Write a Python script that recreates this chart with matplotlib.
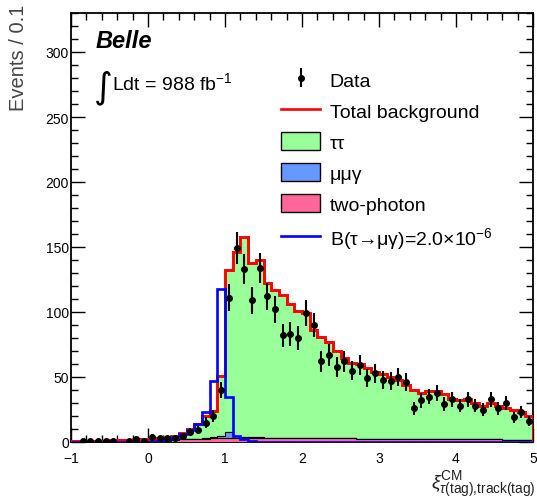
import matplotlib
matplotlib.use('Agg')
import numpy as np
import matplotlib.pyplot as plt
from matplotlib.patches import Patch
from matplotlib.lines import Line2D
from matplotlib.ticker import MultipleLocator

plt.rcParams['font.family'] = ['Liberation Sans', 'DejaVu Sans']
plt.rcParams['mathtext.fontset'] = 'custom'
plt.rcParams['mathtext.rm'] = 'Liberation Sans'
plt.rcParams['mathtext.it'] = 'Liberation Sans:italic'
plt.rcParams['mathtext.bf'] = 'Liberation Sans:bold'

# ---- data (bins of 0.1 from -1 to 5) ----
x_min, x_max, bin_width = -1.0, 5.0, 0.1

total_bkg = [1.0, 1.0, 1.0, 1.0, 1.0, 1.2, 1.3, 1.5, 2.0, 2.3,
             2.5, 3, 4, 5, 7, 10, 14, 20, 24, 51,
             132, 146, 158, 138, 140, 122, 117, 113, 106, 101,
             99, 86, 81, 77, 70, 65, 61, 60, 57, 54,
             52, 50, 48, 44, 40, 38, 39, 39, 37, 33,
             32, 33, 30, 28, 30, 28, 26, 25, 23, 20]

data_counts = [0, 1, 1, 1, 1, 1, 0, 1, 2, 1,
               4, 3, 3, 3, 5, 8, 9, 15, 20, 40,
               111, 149, 133, 109, 134, 112, 102, 82, 83, 80,
               99, 90, 62, 67, 58, 62, 55, 59, 49, 53,
               48, 47, 50, 46, 26, 32, 35, 38, 29, 33,
               28, 33, 28, 25, 33, 26, 30, 19, 23, 16]

mumugamma = [0, 0, 0, 0, 0, 0, 0, 0, 0, 0,
             0, 0, 0, 0, 0, 0, 0, 0.5, 1, 2,
             5, 2, 1, 0.5, 0.5, 0, 0, 0, 0, 0,
             0, 0, 0, 0, 0, 0, 0, 0, 0, 0,
             0, 0, 0, 0, 0, 0, 0, 0, 0, 0,
             0, 0, 0, 0, 0, 0, 0, 0, 0, 0]

two_photon = [0, 0, 0, 0, 0, 0, 0, 0, 0, 0,
              0.5, 0.8, 1, 1.5, 2, 2, 2.5, 2.5, 3, 3,
              3, 3, 3, 3, 3, 3, 3, 3, 3, 3,
              3, 3, 3, 3, 3, 3, 3, 2.5, 2.5, 2.5,
              2.5, 2.5, 2.5, 2.5, 2.5, 2, 2, 2, 2, 2,
              2, 2, 2, 2, 2, 2, 1.5, 1.5, 1.5, 1.5]

signal = [0, 0, 0, 0, 0, 0, 0, 0, 0, 0,
          0, 1, 2, 4, 6, 9, 14, 23, 47, 118,
          35, 5, 2, 1, 0, 0, 0, 0, 0, 0,
          0, 0, 0, 0, 0, 0, 0, 0, 0, 0,
          0, 0, 0, 0, 0, 0, 0, 0, 0, 0,
          0, 0, 0, 0, 0, 0, 0, 0, 0, 0]

legend_labels = ['Data', 'Total background', 'ττ', 'μμγ', 'two-photon',
                 r'B(τ→μγ)=2.0×10$^{-6}$']

# ---- derived ----
nb = int(round((x_max - x_min) / bin_width))
edges = x_min + bin_width * np.arange(nb + 1)
centers = 0.5 * (edges[:-1] + edges[1:])
total_bkg = np.array(total_bkg, float)
data_counts = np.array(data_counts, float)
mumugamma = np.array(mumugamma, float)
two_photon = np.array(two_photon, float)
signal = np.array(signal, float)
tautau = np.clip(total_bkg - mumugamma - two_photon, 0, None)

c_green = '#99ff99'
c_blue = '#6699ff'
c_pink = '#ff6699'

fig = plt.figure(figsize=(5.37, 5.02), dpi=100)
ax = fig.add_axes([71/537, 1 - 443/502, 462/537, 429/502])

# stacked backgrounds
lvl1 = two_photon
lvl2 = two_photon + mumugamma
lvl3 = lvl2 + tautau
ax.stairs(lvl3, edges, baseline=lvl2, fill=True, facecolor=c_green,
          edgecolor='black', linewidth=0.8, zorder=2)
ax.stairs(lvl2, edges, baseline=lvl1, fill=True, facecolor=c_blue,
          edgecolor='black', linewidth=0.8, zorder=3)
ax.stairs(lvl1, edges, baseline=0, fill=True, facecolor=c_pink,
          edgecolor='black', linewidth=0.8, zorder=3)
ax.stairs(total_bkg, edges, color='red', linewidth=2.1, zorder=4)
ax.stairs(signal, edges, color='blue', linewidth=1.9, zorder=5)

mask = data_counts > 0
eb = ax.errorbar(centers[mask], data_counts[mask], yerr=np.sqrt(data_counts[mask]),
                 fmt='o', color='black', markersize=4, elinewidth=1.5,
                 capsize=0, zorder=6)

ax.set_xlim(x_min, x_max)
ax.set_ylim(0, 330)
ax.xaxis.set_major_locator(MultipleLocator(1))
ax.xaxis.set_minor_locator(MultipleLocator(0.2))
ax.yaxis.set_major_locator(MultipleLocator(50))
ax.yaxis.set_minor_locator(MultipleLocator(10))
ax.tick_params(which='both', direction='in', top=True, right=True,
               labelsize=10, width=1.0)
ax.tick_params(which='major', length=10)
ax.tick_params(which='minor', length=5)
ax.tick_params(axis='y', which='both', pad=1.5)
ax.tick_params(axis='x', which='both', pad=6.5)
for s in ax.spines.values():
    s.set_linewidth(1.3)

handles = [eb,
           Line2D([], [], color='red', linewidth=1.9),
           Patch(facecolor=c_green, edgecolor='black', linewidth=1.0),
           Patch(facecolor=c_blue, edgecolor='black', linewidth=1.0),
           Patch(facecolor=c_pink, edgecolor='black', linewidth=1.0),
           Line2D([], [], color='blue', linewidth=1.9)]
ax.legend(handles, legend_labels, loc='upper left', bbox_to_anchor=(0.455, 0.868),
          frameon=False, fontsize=14, handlelength=2.0, handleheight=1.1,
          labelspacing=0.57, handletextpad=0.5, borderpad=0, borderaxespad=0)

ax.text(0.054, 0.921, 'Belle', transform=ax.transAxes, fontsize=17,
        fontweight='bold', fontstyle='italic', va='baseline', ha='left')
ax.text(0.049, 0.805, '∫', transform=ax.transAxes, fontsize=26,
        family='DejaVu Sans', va='baseline', ha='left')
ax.text(0.089, 0.823, r'Ldt = 988 fb$^{-1}$', transform=ax.transAxes,
        fontsize=14, va='baseline', ha='left')

fig.text(0.034, 0.99, 'Events / 0.1', rotation=90, ha='center', va='top',
         fontsize=14.5, color='#444444')
fig.text(0.997, 0.004, r'$\xi^{\rm CM}_{\tau({\rm tag}){,}{\rm track(tag)}}$',
         ha='right', va='bottom', fontsize=14, color='#222222')

fig.savefig('out.png', dpi=100)
